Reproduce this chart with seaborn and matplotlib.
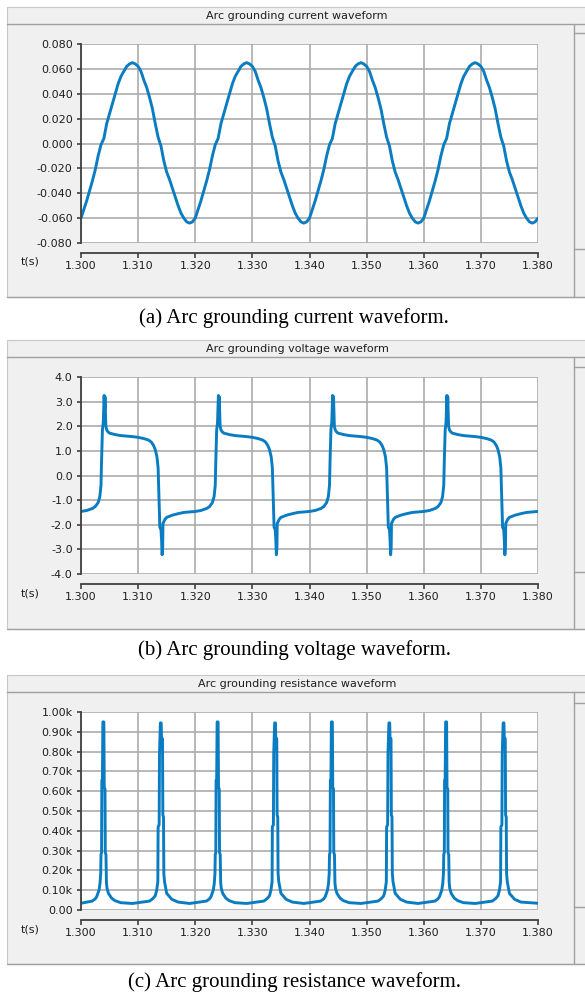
import numpy as np
import pandas as pd
import matplotlib
matplotlib.use("Agg")
import matplotlib.pyplot as plt
from matplotlib.patches import Rectangle
from matplotlib.lines import Line2D
import seaborn as sns

# ---------------------------------------------------------------- data
# time axis (s)
time_ticks = [1.300, 1.310, 1.320, 1.330, 1.340, 1.350, 1.360, 1.370, 1.380]
time_tick_labels = ["1.300", "1.310", "1.320", "1.330", "1.340", "1.350", "1.360", "1.370", "1.380"]

# arc grounding current (kA), sampled every 0.5 ms from 1.300 s
current_start = 1.300
current_step = 0.0005
current_values = [
    -0.060, -0.053, -0.046, -0.038, -0.030, -0.021, -0.010, -0.001, 0.004, 0.016,
    0.024, 0.032, 0.040, 0.048, 0.054, 0.058, 0.062, 0.064, 0.065, 0.064,
    0.062, 0.058, 0.051, 0.045, 0.037, 0.028, 0.016, 0.005, -0.002, -0.014,
    -0.023, -0.029, -0.036, -0.043, -0.050, -0.056, -0.060, -0.063, -0.064, -0.063,
    -0.060, -0.053, -0.046, -0.038, -0.030, -0.021, -0.010, -0.001, 0.004, 0.016,
    0.024, 0.032, 0.040, 0.048, 0.054, 0.058, 0.062, 0.064, 0.065, 0.064,
    0.062, 0.058, 0.051, 0.045, 0.037, 0.028, 0.016, 0.005, -0.002, -0.014,
    -0.023, -0.029, -0.036, -0.043, -0.050, -0.056, -0.060, -0.063, -0.064, -0.063,
    -0.060, -0.053, -0.046, -0.038, -0.030, -0.021, -0.010, -0.001, 0.004, 0.016,
    0.024, 0.032, 0.040, 0.048, 0.054, 0.058, 0.062, 0.064, 0.065, 0.064,
    0.062, 0.058, 0.051, 0.045, 0.037, 0.028, 0.016, 0.005, -0.002, -0.014,
    -0.023, -0.029, -0.036, -0.043, -0.050, -0.056, -0.060, -0.063, -0.064, -0.063,
    -0.060, -0.053, -0.046, -0.038, -0.030, -0.021, -0.010, -0.001, 0.004, 0.016,
    0.024, 0.032, 0.040, 0.048, 0.054, 0.058, 0.062, 0.064, 0.065, 0.064,
    0.062, 0.058, 0.051, 0.045, 0.037, 0.028, 0.016, 0.005, -0.002, -0.014,
    -0.023, -0.029, -0.036, -0.043, -0.050, -0.056, -0.060, -0.063, -0.064, -0.063,
    -0.060,
]
current_ticks = [0.080, 0.060, 0.040, 0.020, 0.000, -0.020, -0.040, -0.060, -0.080]
current_tick_labels = ["0.080", "0.060", "0.040", "0.020", "0.000", "-0.020", "-0.040", "-0.060", "-0.080"]

# arc grounding voltage (kV); times in ms after 1.300 s
voltage_ms = [
    0.0, 1.0, 2.0, 2.5, 3.0, 3.3, 3.5, 3.6, 3.75, 3.9, 4.05, 4.15, 4.2, 4.35, 4.5, 4.7,
    5.0, 6.0, 7.0, 8.0, 9.0, 10.0, 11.0, 11.8, 12.3, 12.7, 13.0, 13.3, 13.5, 13.65,
    13.8, 14.0, 14.1, 14.2, 14.3, 14.35, 14.5, 14.7, 15.0, 16.0, 17.0, 18.0, 19.0,
    20.0, 21.0, 22.0, 22.5, 23.0, 23.3, 23.5, 23.6, 23.75, 23.9, 24.05, 24.15, 24.2, 24.35, 24.5, 24.7,
    25.0, 26.0, 27.0, 28.0, 29.0, 30.0, 31.0, 31.8, 32.3, 32.7, 33.0, 33.3, 33.5, 33.65,
    33.8, 34.0, 34.1, 34.2, 34.3, 34.35, 34.5, 34.7, 35.0, 36.0, 37.0, 38.0, 39.0,
    40.0, 41.0, 42.0, 42.5, 43.0, 43.3, 43.5, 43.6, 43.75, 43.9, 44.05, 44.15, 44.2, 44.35, 44.5, 44.7,
    45.0, 46.0, 47.0, 48.0, 49.0, 50.0, 51.0, 51.8, 52.3, 52.7, 53.0, 53.3, 53.5, 53.65,
    53.8, 54.0, 54.1, 54.2, 54.3, 54.35, 54.5, 54.7, 55.0, 56.0, 57.0, 58.0, 59.0,
    60.0, 61.0, 62.0, 62.5, 63.0, 63.3, 63.5, 63.6, 63.75, 63.9, 64.05, 64.15, 64.2, 64.35, 64.5, 64.7,
    65.0, 66.0, 67.0, 68.0, 69.0, 70.0, 71.0, 71.8, 72.3, 72.7, 73.0, 73.3, 73.5, 73.65,
    73.8, 74.0, 74.1, 74.2, 74.3, 74.35, 74.5, 74.7, 75.0, 76.0, 77.0, 78.0, 79.0,
    80.0,
]
voltage_values = [
    -1.46, -1.42, -1.34, -1.26, -1.10, -0.85, -0.40, 0.60, 1.85, 2.15, 3.25, 2.70, 3.20, 2.00, 1.85, 1.78,
    1.72, 1.66, 1.62, 1.60, 1.58, 1.55, 1.50, 1.44, 1.36, 1.22, 1.05, 0.75, 0.30, -0.90,
    -2.10, -2.20, -2.60, -3.22, -2.90, -1.95, -1.88, -1.78, -1.70, -1.61, -1.55, -1.50, -1.48,
    -1.46, -1.42, -1.34, -1.26, -1.10, -0.85, -0.40, 0.60, 1.85, 2.15, 3.25, 2.70, 3.20, 2.00, 1.85, 1.78,
    1.72, 1.66, 1.62, 1.60, 1.58, 1.55, 1.50, 1.44, 1.36, 1.22, 1.05, 0.75, 0.30, -0.90,
    -2.10, -2.20, -2.60, -3.22, -2.90, -1.95, -1.88, -1.78, -1.70, -1.61, -1.55, -1.50, -1.48,
    -1.46, -1.42, -1.34, -1.26, -1.10, -0.85, -0.40, 0.60, 1.85, 2.15, 3.25, 2.70, 3.20, 2.00, 1.85, 1.78,
    1.72, 1.66, 1.62, 1.60, 1.58, 1.55, 1.50, 1.44, 1.36, 1.22, 1.05, 0.75, 0.30, -0.90,
    -2.10, -2.20, -2.60, -3.22, -2.90, -1.95, -1.88, -1.78, -1.70, -1.61, -1.55, -1.50, -1.48,
    -1.46, -1.42, -1.34, -1.26, -1.10, -0.85, -0.40, 0.60, 1.85, 2.15, 3.25, 2.70, 3.20, 2.00, 1.85, 1.78,
    1.72, 1.66, 1.62, 1.60, 1.58, 1.55, 1.50, 1.44, 1.36, 1.22, 1.05, 0.75, 0.30, -0.90,
    -2.10, -2.20, -2.60, -3.22, -2.90, -1.95, -1.88, -1.78, -1.70, -1.61, -1.55, -1.50, -1.48,
    -1.46,
]
voltage_ticks = [4.0, 3.0, 2.0, 1.0, 0.0, -1.0, -2.0, -3.0, -4.0]
voltage_tick_labels = ["4.0", "3.0", "2.0", "1.0", "0.0", "-1.0", "-2.0", "-3.0", "-4.0"]

# arc grounding resistance (kOhm); times in ms after 1.300 s
resistance_ms = [
    0.0,
    1.95, 2.45, 2.75, 3.15, 3.33, 3.45, 3.50, 3.60, 3.65, 3.75, 3.83, 4.00, 4.07, 4.20, 4.25, 4.37, 4.45, 4.55, 4.80, 5.35, 5.95, 6.95,
    9.0,
    12.00, 12.60, 13.00, 13.25, 13.45, 13.50, 13.68, 13.74, 13.90, 14.04, 14.09, 14.27, 14.33, 14.44, 14.50, 14.62, 15.00, 15.90, 17.00,
    19.0,
    21.95, 22.45, 22.75, 23.15, 23.33, 23.45, 23.50, 23.60, 23.65, 23.75, 23.83, 24.00, 24.07, 24.20, 24.25, 24.37, 24.45, 24.55, 24.80, 25.35, 25.95, 26.95,
    29.0,
    32.00, 32.60, 33.00, 33.25, 33.45, 33.50, 33.68, 33.74, 33.90, 34.04, 34.09, 34.27, 34.33, 34.44, 34.50, 34.62, 35.00, 35.90, 37.00,
    39.0,
    41.95, 42.45, 42.75, 43.15, 43.33, 43.45, 43.50, 43.60, 43.65, 43.75, 43.83, 44.00, 44.07, 44.20, 44.25, 44.37, 44.45, 44.55, 44.80, 45.35, 45.95, 46.95,
    49.0,
    52.00, 52.60, 53.00, 53.25, 53.45, 53.50, 53.68, 53.74, 53.90, 54.04, 54.09, 54.27, 54.33, 54.44, 54.50, 54.62, 55.00, 55.90, 57.00,
    59.0,
    61.95, 62.45, 62.75, 63.15, 63.33, 63.45, 63.50, 63.60, 63.65, 63.75, 63.83, 64.00, 64.07, 64.20, 64.25, 64.37, 64.45, 64.55, 64.80, 65.35, 65.95, 66.95,
    69.0,
    72.00, 72.60, 73.00, 73.25, 73.45, 73.50, 73.68, 73.74, 73.90, 74.04, 74.09, 74.27, 74.33, 74.44, 74.50, 74.62, 75.00, 75.90, 77.00,
    80.0,
]
resistance_values = [
    0.034,
    0.045, 0.055, 0.067, 0.100, 0.134, 0.185, 0.280, 0.290, 0.655, 0.660, 0.950, 0.950, 0.620, 0.610, 0.290, 0.280, 0.140, 0.110, 0.084, 0.060, 0.047, 0.037,
    0.033,
    0.045, 0.058, 0.072, 0.100, 0.143, 0.420, 0.430, 0.790, 0.945, 0.945, 0.870, 0.865, 0.480, 0.470, 0.185, 0.143, 0.084, 0.054, 0.040,
    0.033,
    0.045, 0.055, 0.067, 0.100, 0.134, 0.185, 0.280, 0.290, 0.655, 0.660, 0.950, 0.950, 0.620, 0.610, 0.290, 0.280, 0.140, 0.110, 0.084, 0.060, 0.047, 0.037,
    0.033,
    0.045, 0.058, 0.072, 0.100, 0.143, 0.420, 0.430, 0.790, 0.945, 0.945, 0.870, 0.865, 0.480, 0.470, 0.185, 0.143, 0.084, 0.054, 0.040,
    0.033,
    0.045, 0.055, 0.067, 0.100, 0.134, 0.185, 0.280, 0.290, 0.655, 0.660, 0.950, 0.950, 0.620, 0.610, 0.290, 0.280, 0.140, 0.110, 0.084, 0.060, 0.047, 0.037,
    0.033,
    0.045, 0.058, 0.072, 0.100, 0.143, 0.420, 0.430, 0.790, 0.945, 0.945, 0.870, 0.865, 0.480, 0.470, 0.185, 0.143, 0.084, 0.054, 0.040,
    0.033,
    0.045, 0.055, 0.067, 0.100, 0.134, 0.185, 0.280, 0.290, 0.655, 0.660, 0.950, 0.950, 0.620, 0.610, 0.290, 0.280, 0.140, 0.110, 0.084, 0.060, 0.047, 0.037,
    0.033,
    0.045, 0.058, 0.072, 0.100, 0.143, 0.420, 0.430, 0.790, 0.945, 0.945, 0.870, 0.865, 0.480, 0.470, 0.185, 0.143, 0.084, 0.054, 0.040,
    0.034,
]
resistance_ticks = [1.00, 0.90, 0.80, 0.70, 0.60, 0.50, 0.40, 0.30, 0.20, 0.10, 0.00]
resistance_tick_labels = ["1.00k", "0.90k", "0.80k", "0.70k", "0.60k", "0.50k",
                          "0.40k", "0.30k", "0.20k", "0.10k", "0.00"]

panel_titles = ["Arc grounding current waveform",
                "Arc grounding voltage waveform",
                "Arc grounding resistance waveform"]
captions = ["(a) Arc grounding current waveform.",
            "(b) Arc grounding voltage waveform.",
            "(c) Arc grounding resistance waveform."]

# ---------------------------------------------------------------- tables
current_t = current_start + current_step * np.arange(len(current_values))
df_current = pd.DataFrame({"t": current_t, "v": current_values})
df_voltage = pd.DataFrame({"t": 1.300 + np.array(voltage_ms) / 1000.0, "v": voltage_values})
df_resist = pd.DataFrame({"t": 1.300 + np.array(resistance_ms) / 1000.0, "v": resistance_values})

# ---------------------------------------------------------------- style
sns.set_style("ticks")
plt.rcParams["font.family"] = ["DejaVu Sans"]

W, H, DPI = 585, 992, 100
BLUE = "#0a7cc1"
FRAME = "#f0f0f0"
EDGE = "#a0a0a0"
GRID = "#ababab"
AXIS = "#404040"
TXT = "#1e1e1e"

fig = plt.figure(figsize=(W / DPI, H / DPI), dpi=DPI)
fig.patch.set_facecolor("white")


def fy(py):
    return 1.0 - py / H


def hline(x0, x1, y, color=EDGE, lw=1.0):
    fig.add_artist(Line2D([x0 / W, x1 / W], [fy(y), fy(y)], transform=fig.transFigure,
                          color=color, lw=lw, zorder=1))


def vline(x, y0, y1, color=EDGE, lw=1.0):
    fig.add_artist(Line2D([x / W, x / W], [fy(y0), fy(y1)], transform=fig.transFigure,
                          color=color, lw=lw, zorder=1))


# frame_top, title_line, plot_top, plot_bottom, side_top, side_bottom, frame_bottom, caption_y
layout = [
    (7, 24, 44, 243, 33, 249, 297, 318),
    (340, 357, 377, 574, 367, 572, 629, 650),
    (675, 692, 712, 910, 703, 907, 964, 982),
]

series = [
    (df_current, current_ticks, current_tick_labels, (-0.080, 0.080)),
    (df_voltage, voltage_ticks, voltage_tick_labels, (-4.0, 4.0)),
    (df_resist, resistance_ticks, resistance_tick_labels, (0.0, 1.0)),
]

PLOT_L, PLOT_R = 81, 538

for (ftop, tline, ptop, pbot, stop, sbot, fbot, capy), (df, yt, ytl, ylim), title, cap in zip(
        layout, series, panel_titles, captions):
    # window frame
    fig.add_artist(Rectangle((7 / W, fy(fbot)), (W - 7) / W + 0.01, (fbot - ftop) / H,
                             transform=fig.transFigure, facecolor=FRAME,
                             edgecolor="#c8c8c8", lw=0.8, zorder=-2))
    hline(7, W, tline)
    hline(7, W, fbot)
    vline(574, tline, fbot)
    hline(574, W, stop)
    hline(574, W, sbot)
    fig.text(297 / W, fy(tline - 8), title, ha="center", va="center",
             fontsize=8, color=TXT)
    fig.text(30 / W, fy(pbot + 19), "t(s)", ha="center", va="center",
             fontsize=8, color=TXT)
    fig.text(294 / W, fy(capy), cap, ha="center", va="center",
             fontsize=15, color="black", family=["Liberation Serif"])

    ax = fig.add_axes([PLOT_L / W, fy(pbot), (PLOT_R - PLOT_L) / W, (pbot - ptop) / H])
    ax.set_facecolor("white")
    sns.lineplot(data=df, x="t", y="v", ax=ax, color=BLUE, linewidth=2.1,
                 estimator=None, sort=False, legend=False)
    ax.set_xlim(1.300, 1.380)
    ax.set_ylim(*ylim)
    ax.set_xticks(time_ticks)
    ax.set_xticklabels(time_tick_labels)
    ax.set_yticks(yt)
    ax.set_yticklabels(ytl)
    ax.set_xlabel("")
    ax.set_ylabel("")
    ax.grid(True, color=GRID, lw=1.2)
    ax.set_axisbelow(True)
    for side in ("top", "right"):
        ax.spines[side].set_visible(False)
    ax.spines["left"].set_color(AXIS)
    ax.spines["left"].set_linewidth(1.3)
    ax.spines["bottom"].set_color(AXIS)
    ax.spines["bottom"].set_linewidth(1.3)
    ax.spines["bottom"].set_position(("outward", 7.5))
    ax.tick_params(axis="y", direction="out", length=3, width=1.2, color=AXIS,
                   labelsize=8, labelcolor=TXT, pad=3)
    ax.tick_params(axis="x", direction="out", length=3.6, width=1.2, color=AXIS,
                   labelsize=8, labelcolor=TXT, pad=2)

fig.savefig("out.png", dpi=DPI, facecolor="white")
